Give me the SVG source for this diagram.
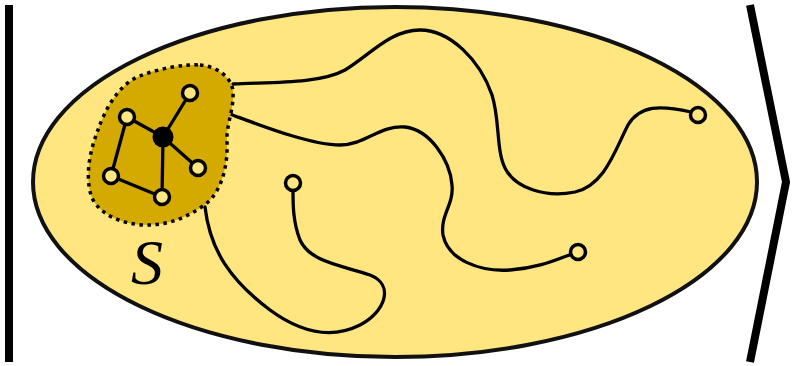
<svg xmlns="http://www.w3.org/2000/svg" width="792" height="366" viewBox="0 0 792 366">
<style>
.bar{stroke:#000;stroke-width:8;fill:none}
.path{stroke:#000;stroke-width:3.3;fill:none;stroke-linecap:round}
.node{fill:#FFE680;stroke:#000;stroke-width:3.5}
.edge{stroke:#000;stroke-width:3.3}
</style>
<rect width="792" height="366" fill="#fff"/>
<line class="bar" x1="9" y1="5" x2="9" y2="362"/>
<polyline class="bar" points="750,5 786,182 750,362" stroke-width="7"/>
<g id="space">
<ellipse cx="395" cy="182" rx="362" ry="175" fill="#FFE680" stroke="#111" stroke-width="4"/>
</g>
<g id="connectors">
<path class="path" d="M233,84 C270,82 320,84 345,70 C370,55 390,30 420,30 C450,30 480,60 492,95 C500,120 496,150 505,168 C515,188 545,198 575,192 C605,185 615,150 628,125 C640,105 660,105 691,112"/>
<path class="path" d="M227,113 C260,125 310,145 340,145 C365,145 380,125 405,127 C430,130 450,160 452,185 C454,205 440,215 443,235 C448,260 480,272 510,270 C540,268 560,258 572,254"/>
<path class="path" d="M205,207 C210,250 230,280 270,310 C300,332 330,340 360,325 C385,312 395,285 370,275 C340,265 310,262 300,240 C293,222 293,205 293,190"/>
</g>
<g id="S">
<path d="M200,65 C215,66 232,76 233,92 C234,110 226,125 227,142 C228,165 222,190 207,203 C190,216 170,225 147,225 C120,225 96,212 91,195 C85,175 90,150 98,130 C104,112 118,84 140,76 C160,68 185,64 200,65 Z" fill="#D4AA00" stroke="#000" stroke-width="3.5" stroke-dasharray="3.5 4.5"/>
<line class="edge" x1="127" y1="117" x2="163" y2="137"/>
<line class="edge" x1="163" y1="137" x2="190" y2="93"/>
<line class="edge" x1="163" y1="137" x2="198" y2="168"/>
<line class="edge" x1="163" y1="137" x2="162" y2="197"/>
<line class="edge" x1="127" y1="117" x2="111" y2="176"/>
<line class="edge" x1="111" y1="176" x2="162" y2="197"/>
<circle cx="163" cy="137" r="10.5" fill="#000"/>
<circle class="node" cx="190" cy="93" r="7.5"/>
<circle class="node" cx="127" cy="117" r="7.5"/>
<circle class="node" cx="198" cy="168" r="7.5"/>
<circle class="node" cx="111" cy="176" r="7.5"/>
<circle class="node" cx="162" cy="197" r="7.5"/>
<text x="131" y="284" font-family="Liberation Serif, serif" font-style="italic" font-size="64">S</text>
</g>
<g id="ends">
<circle class="node" cx="698" cy="115" r="7.5"/>
<circle class="node" cx="578" cy="252" r="7.5"/>
<circle class="node" cx="293" cy="183" r="7.5"/>
</g>
</svg>
